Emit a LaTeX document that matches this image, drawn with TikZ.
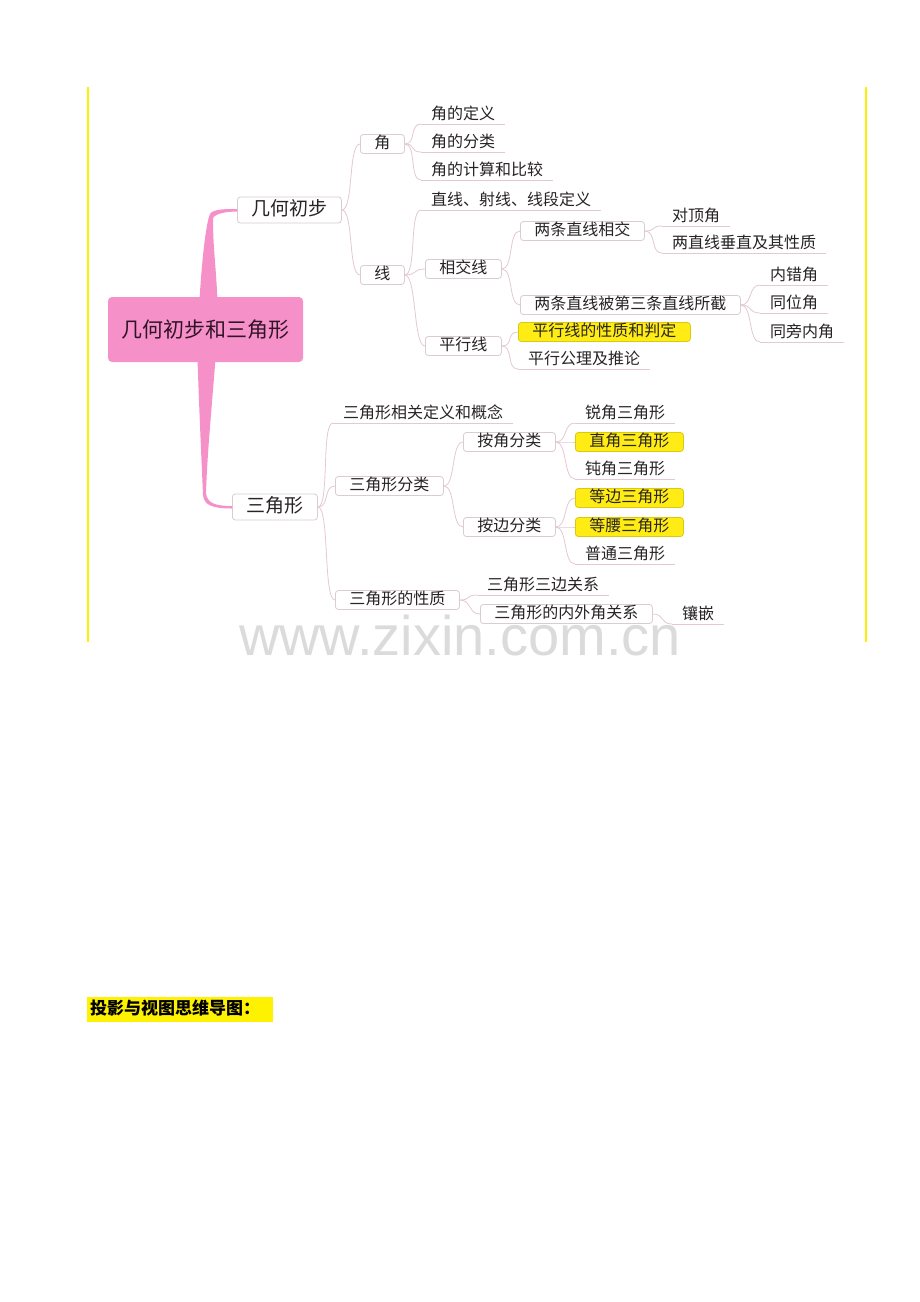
\documentclass[tikz,border=0pt]{standalone}
\usepackage{fontspec}
\newfontfamily\cjk{Noto Sans CJK SC}
\setsansfont{Liberation Sans}
\usetikzlibrary{calc}
\definecolor{linec}{RGB}{228,200,210}
\definecolor{boxc}{RGB}{218,205,210}
\definecolor{rootpink}{RGB}{245,145,200}
\definecolor{hly}{RGB}{255,236,20}
\definecolor{txt}{RGB}{40,36,38}
\definecolor{framey}{RGB}{255,240,0}
\tikzset{
  box/.style={draw=boxc, fill=white, rounded corners=3pt, line width=0.8pt, inner xsep=14pt, inner ysep=2pt,
    text height=12pt, text depth=3pt, text=txt, font=\cjk\fontsize{16}{16}\selectfont},
  bigbox/.style={box, inner ysep=4pt, text height=14pt, text depth=4pt, font=\cjk\fontsize{19}{19}\selectfont},
  hlbox/.style={box, fill=hly, draw=hly!85!black},
  leaf/.style={inner xsep=10pt, inner ysep=1pt, text height=12pt, text depth=3pt, text=txt,
    font=\cjk\fontsize{16}{16}\selectfont},
  link/.style={draw=linec, line width=0.8pt}
}
\begin{document}
\begin{tikzpicture}[x=1pt,y=-1pt]
\fill[white] (0,0) rectangle (920,1302);
\useasboundingbox (0,0) rectangle (920,1302);
\draw[framey, line width=1.6pt] (88,87) -- (88,642);
\draw[framey, line width=1.6pt] (866,87) -- (866,642);

\node[fill=rootpink, rounded corners=4pt, minimum width=195pt, minimum height=65pt, text={rgb,255:red,50;green,20;blue,40},
  font=\cjk\fontsize{21}{21}\selectfont] (root) at (205.5,329.5) {几何初步和三角形};

\node[bigbox, anchor=west] (jihe) at (237,210) {几何初步};
\node[bigbox, anchor=west] (sanjiao) at (232,507) {三角形};

\fill[rootpink] ([xshift=-6pt,yshift=-3pt]root.north) .. controls +(3,-50) and +(-3,6) .. ([xshift=-27pt,yshift=-4pt]jihe.west)
  .. controls +(3,-5) and +(-12,0) .. ([yshift=1pt]jihe.west) -- ([yshift=-1.5pt]jihe.west)
  .. controls +(-12,0) and +(2,-4) .. ([xshift=-24pt,yshift=-8pt]jihe.west)
  .. controls +(0,30) and +(-2,-40) .. ([xshift=12pt,yshift=-3pt]root.north) -- cycle;
\fill[rootpink] ([xshift=-8pt,yshift=3pt]root.south) .. controls +(2,60) and +(-1,-25) .. ([xshift=-29pt,yshift=12pt]sanjiao.west)
  .. controls +(1,10) and +(-20,0) .. ([yshift=-1.5pt]sanjiao.west) -- ([yshift=1pt]sanjiao.west)
  .. controls +(-17,0) and +(1,10) .. ([xshift=-26pt,yshift=14pt]sanjiao.west)
  .. controls +(1,-35) and +(-4,50) .. ([xshift=10pt,yshift=3pt]root.south) -- cycle;

\node[box, anchor=west] (jiao) at (360,144) {角};
\node[box, anchor=west] (xian) at (360,275) {线};
\node[leaf, anchor=south west] (jdy) at (421,124) {角的定义};
\node[leaf, anchor=south west] (jfl) at (421,152) {角的分类};
\node[leaf, anchor=south west] (jjs) at (421,180) {角的计算和比较};
\node[leaf, anchor=south west] (zx) at (421,210) {直线、射线、线段定义};
\node[box, anchor=west] (xjx) at (425,269) {相交线};
\node[box, anchor=west] (pxx) at (425,346) {平行线};
\node[box, anchor=west] (ltxj) at (520,231) {两条直线相交};
\node[box, anchor=west] (ltbj) at (520,305) {两条直线被第三条直线所截};
\node[leaf, anchor=south west] (dd) at (662,226) {对顶角};
\node[leaf, anchor=south west] (czx) at (662,253) {两直线垂直及其性质};
\node[leaf, anchor=south west] (ncj) at (760,285) {内错角};
\node[leaf, anchor=south west] (twj) at (760,313) {同位角};
\node[leaf, anchor=south west] (tpn) at (760,342) {同旁内角};
\node[hlbox, anchor=west] (pxxz) at (518,332) {平行线的性质和判定};
\node[leaf, anchor=south west] (pxgl) at (518,369) {平行公理及推论};

\node[leaf, anchor=south west] (xgdy) at (333,423) {三角形相关定义和概念};
\node[box, anchor=west] (sjfl) at (335,486) {三角形分类};
\node[box, anchor=west] (sjxz) at (335,600) {三角形的性质};
\node[box, anchor=west] (ajfl) at (463,442) {按角分类};
\node[box, anchor=west] (abfl) at (463,527) {按边分类};
\node[leaf, anchor=south west] (rj) at (575,423) {锐角三角形};
\node[hlbox, anchor=west] (zj) at (575,442) {直角三角形};
\node[leaf, anchor=south west] (dj) at (575,479) {钝角三角形};
\node[hlbox, anchor=west] (db) at (575,498) {等边三角形};
\node[hlbox, anchor=west] (dy) at (575,527) {等腰三角形};
\node[leaf, anchor=south west] (pt) at (575,564) {普通三角形};
\node[leaf, anchor=south west] (sbgx) at (477,595) {三角形三边关系};
\node[box, anchor=west] (nwj) at (480,614) {三角形的内外角关系};
\node[leaf, anchor=south west] (xq) at (672,624) {镶嵌};

\foreach \a/\b in {jihe/jiao, jihe/xian, xian/xjx, xian/pxx, xjx/ltxj, xjx/ltbj, pxx/pxxz,
  sanjiao/sjfl, sanjiao/sjxz, sjfl/ajfl, sjfl/abfl, ajfl/zj, abfl/db, abfl/dy, sjxz/nwj}
  \draw[link] (\a.east) .. controls +(12,0) and +(-12,0) .. (\b.west);
\foreach \a/\b in {jiao/jdy, jiao/jfl, jiao/jjs, xian/zx, ltxj/dd, ltxj/czx, ltbj/ncj, ltbj/twj, ltbj/tpn,
  pxx/pxgl, sanjiao/xgdy, ajfl/rj, ajfl/dj, abfl/pt, sjxz/sbgx, nwj/xq}
  \draw[link] (\a.east) .. controls +(12,0) and +(-12,0) .. (\b.south west);
\foreach \b in {jdy, jfl, jjs, zx, dd, czx, ncj, twj, tpn, pxgl, xgdy, rj, dj, pt, sbgx, xq}
  \draw[link] (\b.south west) -- (\b.south east);

\node[anchor=base, text=black!14, font=\sffamily\fontsize{56}{56}\selectfont] (wm) at (460,655) {www.zixin.com.cn};

\node[fill=yellow, anchor=west, inner xsep=3pt, inner ysep=3.5pt, text width=180pt, align=left, text height=14pt, text depth=4pt,
  font=\cjk\bfseries\fontsize{17}{17}\selectfont] (tyst) at (87,1009.5) {投影与视图思维导图：};
\end{tikzpicture}
\end{document}
